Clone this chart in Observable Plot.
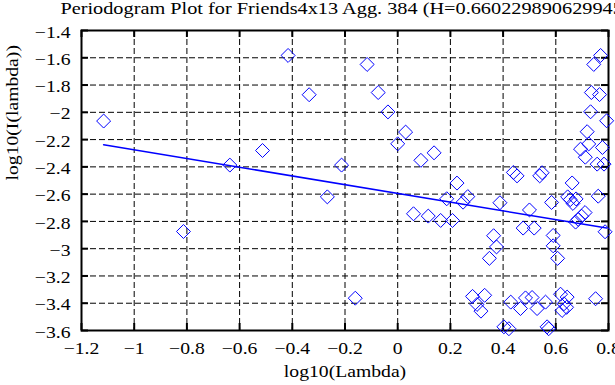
<!DOCTYPE html>
<html>
<head>
<meta charset="utf-8">
<script src="https://cdn.jsdelivr.net/npm/d3@7"></script>
<script src="https://cdn.jsdelivr.net/npm/@observablehq/plot@0.6"></script>
<style>
  html, body { margin: 0; padding: 0; background: #fff; }
  #chart svg, #chart svg text { font-family: "Liberation Serif", "Times New Roman", serif !important; }
</style>
</head>
<body>
<div id="chart"></div>
<script>
const title = "Periodogram Plot for Friends4x13 Agg. 384 (H=0.660229890629945)";
const xLabel = "log10(Lambda)";
const yLabel = "log10(I(lambda))";
const xTicks = [-1.2, -1, -0.8, -0.6, -0.4, -0.2, 0, 0.2, 0.4, 0.6, 0.8];
const yTicks = [-3.6, -3.4, -3.2, -3, -2.8, -2.6, -2.4, -2.2, -2, -1.8, -1.6, -1.4];

// log10(lambda) values
const logLambda = [
  -1.116, -0.813, -0.637, -0.513, -0.416, -0.336, -0.267, -0.213, -0.161, -0.116,
  -0.074, -0.037, 0.000, 0.030, 0.060, 0.088, 0.116, 0.138, 0.163, 0.186,
  0.208, 0.225, 0.248, 0.266, 0.284, 0.301, 0.316, 0.330, 0.348, 0.364,
  0.375, 0.388, 0.403, 0.422, 0.429, 0.439, 0.453, 0.466, 0.476, 0.485,
  0.500, 0.510, 0.518, 0.529, 0.539, 0.548, 0.561, 0.567, 0.573, 0.584,
  0.590, 0.590, 0.607, 0.618, 0.624, 0.631, 0.643, 0.641, 0.645, 0.655,
  0.662, 0.665, 0.675, 0.677, 0.685, 0.694, 0.698, 0.711, 0.712, 0.719,
  0.725, 0.732, 0.735, 0.744, 0.751, 0.757, 0.761, 0.766, 0.770, 0.777,
  0.783, 0.787, 0.793
];
// log10(I(lambda)) values
const logI = [
  -2.064, -2.874, -2.387, -2.280, -1.583, -1.871, -2.620, -2.387, -3.363, -1.649,
  -1.855, -1.997, -2.231, -2.145, -2.744, -2.352, -2.761, -2.297, -2.793, -2.634,
  -2.793, -2.519, -2.659, -2.618, -3.350, -3.409, -3.458, -3.342, -3.071, -2.905,
  -2.987, -2.663, -3.573, -3.587, -3.392, -2.441, -2.466, -3.439, -2.849, -3.361,
  -2.716, -3.358, -2.849, -3.439, -2.466, -2.443, -3.392, -3.573, -3.587, -2.661,
  -2.903, -2.979, -3.071, -3.334, -3.453, -3.404, -3.355, -3.430, -2.620, -2.640,
  -2.518, -2.668, -2.805, -2.635, -2.785, -2.270, -2.762, -2.735, -2.329, -2.142,
  -2.232, -1.996, -1.855, -1.649, -3.367, -2.380, -2.615, -1.870, -1.583, -2.258,
  -2.380, -2.876, -2.062
];

// least-squares fit reported by the chart: slope = 1 - 2H
const hurst = 0.660229890629945;
const fitSlope = 1 - 2 * hurst;
const fitIntercept = -2.595;

const points = logLambda.map((x, i) => ({x, y: logI[i]}));
const xExtent = d3.extent(logLambda);
const fitLine = xExtent.map(x => ({x, y: fitIntercept + fitSlope * x}));

const fmt = d => String(Math.round(d * 10) / 10).replace("-", "\u2212");
const font = "Liberation Serif";

const chart = Plot.plot({
  width: 615,
  height: 385,
  marginLeft: 81,
  marginRight: 7,
  marginTop: 30,
  marginBottom: 55,
  style: {fontFamily: font, fontSize: "16px", background: "#fff", color: "#000", overflow: "visible"},
  x: {domain: [-1.2, 0.8]},
  y: {domain: [-3.6, -1.4]},
  marks: [
    Plot.gridX(xTicks, {stroke: "#000", strokeOpacity: 1, strokeWidth: 1, strokeDasharray: "6,3"}),
    Plot.gridY(yTicks, {stroke: "#000", strokeOpacity: 1, strokeWidth: 1, strokeDasharray: "6,3"}),
    Plot.ruleX(xTicks, {stroke: "#000", strokeWidth: 2, insetBottom: 293}),
    Plot.ruleX(xTicks, {stroke: "#000", strokeWidth: 2, insetTop: 293}),
    Plot.ruleY(yTicks, {stroke: "#000", strokeWidth: 2, insetRight: 520}),
    Plot.ruleY(yTicks, {stroke: "#000", strokeWidth: 2, insetLeft: 520}),
    Plot.frame({stroke: "#000", strokeWidth: 2}),
    Plot.line(fitLine, {x: "x", y: "y", stroke: "#0000ff", strokeWidth: 1.5}),
    Plot.dot(points, {x: "x", y: "y", symbol: "diamond2", r: 6.3, stroke: "#0000ff", strokeWidth: 1, fill: "none"}),
    Plot.axisX(xTicks, {tickSize: 0, tickPadding: 12, tickFormat: fmt, label: null, fontSize: 16, fontFamily: font}),
    Plot.axisY(yTicks, {tickSize: 0, tickPadding: 11, tickFormat: fmt, label: null, fontSize: 16, fontFamily: font, dy: 2}),
    Plot.text([title], {frameAnchor: "top", dy: -17, lineAnchor: "bottom", fontSize: 16.5, fontFamily: font, fill: "#000"}),
    Plot.text([xLabel], {frameAnchor: "bottom", dy: 46, fontSize: 16, fontFamily: font, fill: "#000"}),
    Plot.text([yLabel], {frameAnchor: "left", dx: -69, rotate: -90, fontSize: 16, fontFamily: font, fill: "#000"})
  ]
});

// the reference's lettering is horizontally stretched
chart.querySelectorAll("text").forEach(t => {
  const tr = t.getAttribute("transform") || "";
  t.setAttribute("transform", tr + " scale(1.23,1)");
});

document.getElementById("chart").appendChild(chart);
</script>
</body>
</html>
